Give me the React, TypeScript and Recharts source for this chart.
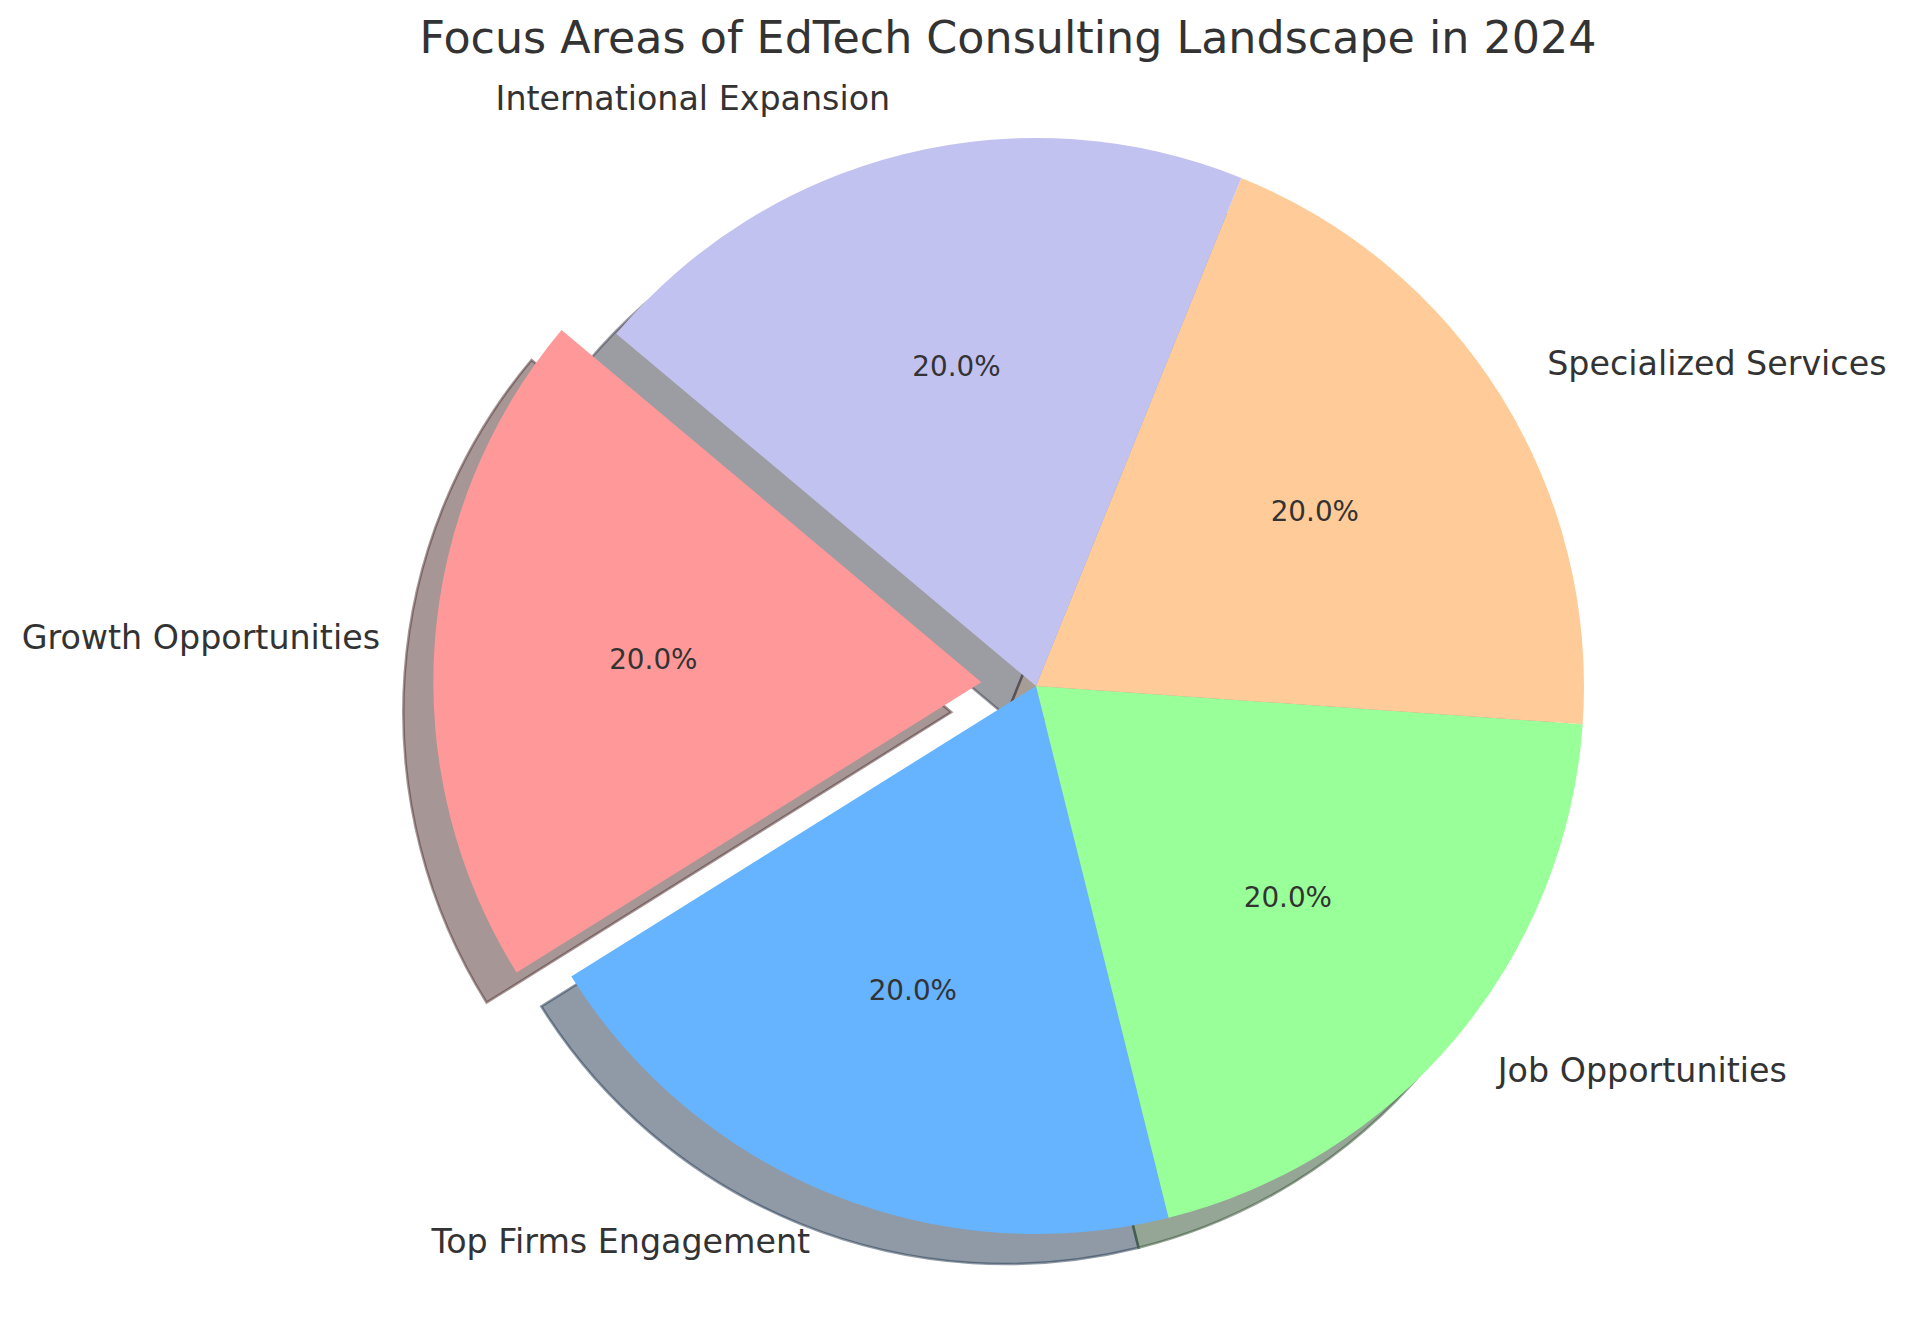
import React from 'react';
import { PieChart, Pie, Cell } from 'recharts';

const categories = [
    'Growth Opportunities',
    'Top Firms Engagement',
    'Job Opportunities',
    'Specialized Services',
    'International Expansion',
];
const shares = [20, 20, 20, 20, 20];
const colors = ['#ff9999', '#66b3ff', '#99ff99', '#ffcc99', '#c2c2f0'];
const explode = [0.1, 0, 0, 0, 0];

const data = categories.map((name, i) => ({ name, value: shares[i] }));

const WIDTH = 1906;
const HEIGHT = 1322;
const CX = 1036;
const CY = 686;
const R = 548;
const START = 140;
const SHADOW = 30;
const RADIAN = Math.PI / 180;
const TEXT = '#333333';
const FONT = '"DejaVu Sans", sans-serif';

const total = shares.reduce((a, b) => a + b, 0);

// matplotlib-like shadow: 30% of the face colour, half transparent
function shade(hex: string) {
    const n = parseInt(hex.slice(1), 16);
    const r = Math.round(((n >> 16) & 255) * 0.3);
    const g = Math.round(((n >> 8) & 255) * 0.3);
    const b = Math.round((n & 255) * 0.3);
    return `rgb(${r},${g},${b})`;
}

// how far each slice is pulled out of the pie
const offsets = shares.map((v, i) => {
    const before = shares.slice(0, i).reduce((a, b) => a + b, 0);
    const mid = START + ((before + v / 2) / total) * 360;
    const d = explode[i] * R;
    return { dx: d * Math.cos(mid * RADIAN), dy: -d * Math.sin(mid * RADIAN) };
});

const renderLabel = (idx: number) => (props: any) => {
    const { cx, cy, midAngle, outerRadius, percent, name } = props;
    if (name !== categories[idx]) return <g />;
    const cos = Math.cos(-midAngle * RADIAN);
    const sin = Math.sin(-midAngle * RADIAN);
    const lx = cx + outerRadius * 1.1 * cos;
    const ly = cy + outerRadius * 1.1 * sin - 3;
    const px = cx + outerRadius * 0.6 * cos;
    const py = cy + outerRadius * 0.6 * sin;
    return (
        <g>
            <text x={lx} y={ly} fill={TEXT} fontFamily={FONT} fontSize={33.3}
                textAnchor={cos >= 0 ? 'start' : 'end'} dominantBaseline={'central'}>
                {name}
            </text>
            <text x={px} y={py} fill={TEXT} fontFamily={FONT} fontSize={27.8}
                textAnchor={'middle'} dominantBaseline={'central'}>
                {`${(percent * 100).toFixed(1)}%`}
            </text>
        </g>
    );
};

function App() {
    return (
        <div style={{ position: 'absolute', left: 0, top: 0, width: WIDTH, height: HEIGHT, background: '#fff' }}>
            <div style={{
                position: 'absolute', left: 0, top: 16, width: 2016, textAlign: 'center',
                fontFamily: FONT, fontSize: 44.4, lineHeight: 1, color: TEXT, whiteSpace: 'nowrap',
            }}>
                Focus Areas of EdTech Consulting Landscape in 2024
            </div>
            <PieChart width={WIDTH} height={HEIGHT} margin={{ top: 0, right: 0, bottom: 0, left: 0 }}>
                {categories.map((c, i) => (
                    <Pie key={`shadow-${c}`} data={data} dataKey={'value'} nameKey={'name'}
                        cx={CX + offsets[i].dx - SHADOW} cy={CY + offsets[i].dy + SHADOW}
                        outerRadius={R} startAngle={START} endAngle={START + 360}
                        label={false} labelLine={false} isAnimationActive={false}>
                        {categories.map((d, j) => (
                            <Cell key={d}
                                fill={j === i ? shade(colors[j]) : 'none'}
                                fillOpacity={0.5}
                                stroke={j === i ? shade(colors[j]) : 'none'}
                                strokeOpacity={0.5}
                                strokeWidth={2.5} />
                        ))}
                    </Pie>
                ))}
                {categories.map((c, i) => (
                    <Pie key={`slice-${c}`} data={data} dataKey={'value'} nameKey={'name'}
                        cx={CX + offsets[i].dx} cy={CY + offsets[i].dy}
                        outerRadius={R} startAngle={START} endAngle={START + 360}
                        label={renderLabel(i)} labelLine={false} isAnimationActive={false}>
                        {categories.map((d, j) => (
                            <Cell key={d} fill={j === i ? colors[j] : 'none'} stroke={'none'} />
                        ))}
                    </Pie>
                ))}
            </PieChart>
        </div>
    );
}

export default App;
